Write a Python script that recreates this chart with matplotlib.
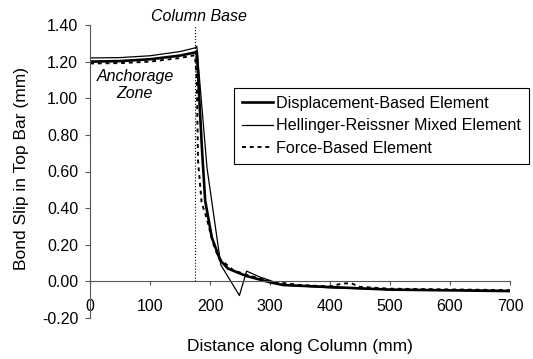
import matplotlib
matplotlib.use("Agg")
from matplotlib import pyplot as plt

plt.rcParams['font.family'] = ['Liberation Sans', 'DejaVu Sans']

# Displacement-Based Element (thick line)
disp_x = [0, 50, 100, 150, 175, 178, 187, 192, 203, 217, 230, 260, 300, 322, 400, 500, 700]
disp_y = [1.20, 1.203, 1.213, 1.233, 1.25, 1.255, 0.70, 0.44, 0.24, 0.115, 0.07, 0.03, -0.005, -0.02, -0.031, -0.045, -0.053]

# Hellinger-Reissner Mixed Element (thin line)
hr_x = [0, 50, 100, 150, 175, 178, 195, 218, 249, 261, 283, 322, 400, 500, 700]
hr_y = [1.22, 1.222, 1.232, 1.255, 1.275, 1.284, 0.62, 0.09, -0.077, 0.056, 0.024, -0.02, -0.035, -0.045, -0.05]

# Force-Based Element (dashed)
fb_x = [0, 50, 100, 150, 175, 178, 180, 186, 194, 205, 214, 239, 264, 300, 350, 400, 420, 435, 450, 500, 700]
fb_y = [1.19, 1.192, 1.20, 1.22, 1.235, 1.10, 0.66, 0.43, 0.35, 0.21, 0.13, 0.06, 0.033, 0.0, -0.02, -0.028, -0.012, -0.01, -0.03, -0.04, -0.048]

col_base = 175

fig = plt.figure(figsize=(5.33, 3.59), dpi=100)
ax = fig.add_axes([90 / 533, 1 - 318 / 359, 420 / 533, 293 / 359])

ax.plot(disp_x, disp_y, color='black', lw=1.9, label='Displacement-Based Element')
ax.plot(hr_x, hr_y, color='black', lw=0.9, label='Hellinger-Reissner Mixed Element')
ax.plot(fb_x, fb_y, color='black', lw=1.4, dashes=(2, 2), label='Force-Based Element')

# column base marker
ax.plot([col_base, col_base], [0, 1.40], color='black', lw=0.8, linestyle=':', clip_on=False)
ax.text(181, 1.444, 'Column Base', ha='center', va='center', style='italic', fontsize=11.5)
ax.text(75, 1.074, 'Anchorage\nZone', ha='center', va='center', style='italic', fontsize=11.5,
        linespacing=1.15)

ax.set_xlim(0, 700)
ax.set_ylim(-0.2, 1.4)
ax.set_xticks(range(0, 701, 100))
ax.set_yticks([-0.2, 0, 0.2, 0.4, 0.6, 0.8, 1.0, 1.2, 1.4])
ax.set_yticklabels(['%.2f' % v for v in ax.get_yticks()])

ax.spines['top'].set_visible(False)
ax.spines['right'].set_visible(False)
ax.spines['bottom'].set_position(('data', 0))
ax.spines['left'].set_color('#555555')
ax.spines['bottom'].set_color('#555555')
ax.tick_params(axis='y', length=3.5, pad=5, labelsize=11.5, color='#555555')
ax.tick_params(axis='x', length=3, pad=10, labelsize=11.5, color='#555555')

ax.set_xlabel('Distance along Column (mm)', fontsize=12.5)
ax.xaxis.set_label_coords(0.5, -0.072)
ax.set_ylabel('Bond Slip in Top Bar (mm)', fontsize=12.5)
ax.yaxis.set_label_coords(-0.145, 0.51)

leg = ax.legend(loc='upper left', bbox_to_anchor=(234 / 533, 1 - 88 / 359),
                bbox_transform=fig.transFigure, borderaxespad=0, fancybox=False,
                edgecolor='black', framealpha=1, fontsize=11.6, handlelength=1.9,
                handletextpad=0.2, labelspacing=0.45, borderpad=0.5)
leg.get_frame().set_linewidth(0.8)

fig.savefig('out.png', dpi=100)
